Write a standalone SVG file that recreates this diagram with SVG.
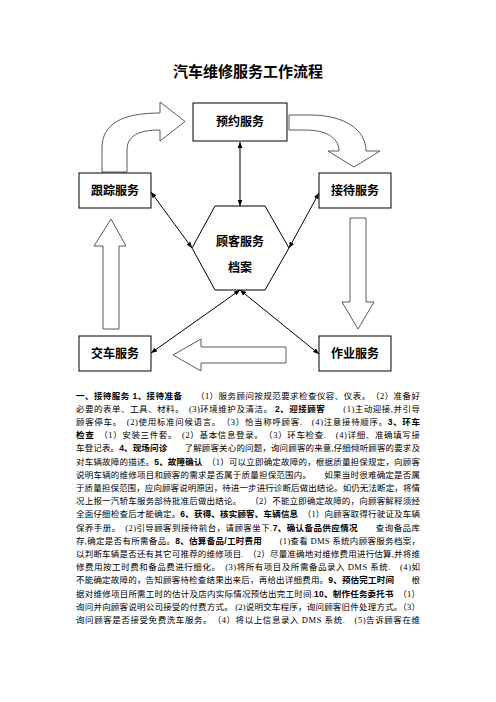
<svg xmlns="http://www.w3.org/2000/svg" width="496" height="702" viewBox="0 0 496 702">
<style>
.title{font-family:"Liberation Sans","Noto Sans CJK SC",sans-serif;font-size:15px;font-weight:bold;fill:#000}
.lbl{font-family:"Liberation Sans","Noto Sans CJK SC",sans-serif;font-size:12px;font-weight:bold;fill:#000}
.box{fill:#fff;stroke:#000;stroke-width:1}
.blk{fill:#fff;stroke:#5a5a5a;stroke-width:1}
.con{stroke:#000;stroke-width:1;fill:none;marker-start:url(#ah);marker-end:url(#ah)}
.p{font-family:"Liberation Serif","Noto Sans CJK SC",serif;font-size:8.5px;fill:#000;white-space:pre}
.b{font-family:"Liberation Sans","Noto Sans CJK SC",sans-serif;font-weight:bold}
</style>
<defs>
<marker id="ah" viewBox="0 0 10 10" refX="10" refY="5" markerWidth="6" markerHeight="6" markerUnits="userSpaceOnUse" orient="auto-start-reverse"><path d="M0,1 L10,5 L0,9 Z" fill="#000"/></marker>
</defs>
<rect width="496" height="702" fill="#fff"/>
<text class="title" x="248" y="77" text-anchor="middle">汽车维修服务工作流程</text>

<g id="block-arrows">
<path class="blk" d="M102,172 L102,148 C102,124 122,113 160,113 L160,102 L185,121.5 L160,141 L160,130 C138,130 127,136 127,150 L127,172 Z"/>
<path class="blk" d="M289,115 L310,115 C345,115 366,130 366,151 L380,151 L354,167 L328,151 L339,151 C339,137 325,130 305,130 L289,130 Z"/>
<path class="blk" d="M350,218 L366,218 L366,302 L374,302 L358,329 L342,302 L350,302 Z"/>
<path class="blk" d="M286,347 L286,363 L201,363 L201,371 L173,355 L201,339 L201,347 Z"/>
<path class="blk" d="M103,329 L119,329 L119,246 L126,246 L111,219 L94,246 L103,246 Z"/>
</g>

<g id="connectors">
<line class="con" x1="240" y1="142" x2="240" y2="206"/>
<line class="con" x1="151" y1="192" x2="192" y2="248"/>
<line class="con" x1="319" y1="193" x2="289" y2="248"/>
<line class="con" x1="151" y1="353" x2="240" y2="290"/>
<line class="con" x1="319" y1="354" x2="240" y2="290"/>
</g>

<g id="n-yuyue"><rect class="box" x="193" y="103" width="94" height="38"/><text class="lbl" x="240" y="126" text-anchor="middle">预约服务</text></g>
<g id="n-genzong"><rect class="box" x="79" y="173" width="72" height="35"/><text class="lbl" x="115" y="194.5" text-anchor="middle">跟踪服务</text></g>
<g id="n-jiedai"><rect class="box" x="319" y="173" width="72" height="35"/><text class="lbl" x="355" y="194.5" text-anchor="middle">接待服务</text></g>
<g id="n-jiaoche"><rect class="box" x="79" y="336" width="72" height="35"/><text class="lbl" x="115" y="357.5" text-anchor="middle">交车服务</text></g>
<g id="n-zuoye"><rect class="box" x="319" y="336" width="72" height="35"/><text class="lbl" x="355" y="357.5" text-anchor="middle">作业服务</text></g>
<g id="n-dangan"><polygon class="box" points="215,206 265,206 289,248 265,290 215,290 192,248"/><text class="lbl" x="240" y="246" text-anchor="middle">顾客服务</text><text class="lbl" x="240" y="272" text-anchor="middle">档案</text></g>

<g id="paragraph">
<text class="p" x="76" y="398.5" textLength="344" lengthAdjust="spacing"><tspan class="b">一、接待服务 1、接待准备</tspan>　　（1）服务顾问按规范要求检查仪容、仪表。　（2）准备好</text>
<text class="p" x="76" y="411.7" textLength="344" lengthAdjust="spacing">必要的表单、工具、材料。　(3)环境维护及清洁。 <tspan class="b">2、迎接顾客</tspan>　　(1)主动迎接,并引导</text>
<text class="p" x="76" y="424.9" textLength="344" lengthAdjust="spacing">顾客停车。　(2)使用标准问候语言。　（3）恰当称呼顾客.　(4)注意接待顺序。<tspan class="b">3、环车</tspan></text>
<text class="p" x="76" y="438.1" textLength="344" lengthAdjust="spacing"><tspan class="b">检查</tspan>　（1）安装三件套。　(2）基本信息登录。　（3）环车检查.　(4)详细、准确填写接</text>
<text class="p" x="76" y="451.3" textLength="344" lengthAdjust="spacing">车登记表。<tspan class="b">4、现场问诊</tspan>　　了解顾客关心的问题，询问顾客的来意,仔细倾听顾客的要求及</text>
<text class="p" x="76" y="464.5" textLength="344" lengthAdjust="spacing">对车辆故障的描述。<tspan class="b">5、故障确认</tspan>　（1）可以立即确定故障的，根据质量担保规定，向顾客</text>
<text class="p" x="76" y="477.7" textLength="344" lengthAdjust="spacing">说明车辆的维修项目和顾客的需求是否属于质量担保范围内。　　如果当时很难确定是否属</text>
<text class="p" x="76" y="490.9" textLength="344" lengthAdjust="spacing">于质量担保范围，应向顾客说明原因，待进一步进行诊断后做出结论。如仍无法断定，将情</text>
<text class="p" x="76" y="504.1" textLength="344" lengthAdjust="spacing">况上报一汽轿车服务部待批准后做出结论。　　（2）不能立即确定故障的，向顾客解释须经</text>
<text class="p" x="76" y="517.3" textLength="344" lengthAdjust="spacing">全面仔细检查后才能确定。<tspan class="b">6、获得、核实顾客、车辆信息</tspan>　（1）向顾客取得行驶证及车辆</text>
<text class="p" x="76" y="530.5" textLength="344" lengthAdjust="spacing">保养手册。　(2)引导顾客到接待前台，请顾客坐下.<tspan class="b">7、确认备品供应情况</tspan>　　查询备品库</text>
<text class="p" x="76" y="543.7" textLength="344" lengthAdjust="spacing">存,确定是否有所需备品。<tspan class="b">8、估算备品/工时费用</tspan>　　(1)查看 DMS 系统内顾客服务档案，</text>
<text class="p" x="76" y="556.9" textLength="344" lengthAdjust="spacing">以判断车辆是否还有其它可推荐的维修项目.　（2）尽量准确地对维修费用进行估算,并将维</text>
<text class="p" x="76" y="570.1" textLength="344" lengthAdjust="spacing">修费用按工时费和备品费进行细化。　(3)将所有项目及所需备品录入 DMS 系统.　(4)如</text>
<text class="p" x="76" y="583.3" textLength="344" lengthAdjust="spacing">不能确定故障的，告知顾客待检查结果出来后，再给出详细费用。<tspan class="b">9、预估完工时间</tspan>　　根</text>
<text class="p" x="76" y="596.5" textLength="344" lengthAdjust="spacing">据对维修项目所需工时的估计及店内实际情况预估出完工时间.<tspan class="b">10、制作任务委托书</tspan>　（1）</text>
<text class="p" x="76" y="609.7" textLength="344" lengthAdjust="spacing">询问并向顾客说明公司接受的付费方式。 (2)说明交车程序，询问顾客旧件处理方式。（3）</text>
<text class="p" x="76" y="622.9" textLength="344" lengthAdjust="spacing">询问顾客是否接受免费洗车服务。　（4）将以上信息录入 DMS 系统.　(5)告诉顾客在维</text>
</g>
</svg>
